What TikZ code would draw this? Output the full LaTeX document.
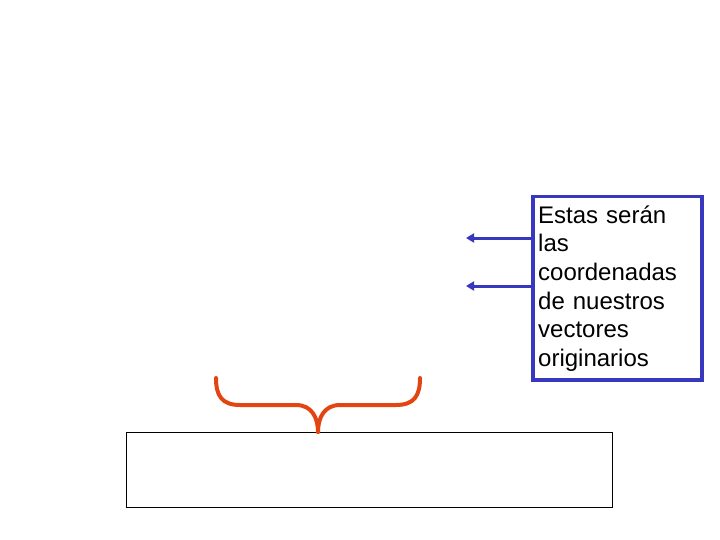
\documentclass[tikz,border=0pt]{standalone}
\usepackage{fontspec}
\setmainfont{Liberation Sans}
\usetikzlibrary{arrows.meta}
\definecolor{boxblue}{RGB}{56,56,190}
\definecolor{braceorange}{RGB}{226,68,18}
\tikzset{
  bluebox/.style={draw=boxblue, line width=3.5pt, minimum width=169pt, minimum height=183pt, inner sep=0pt},
  bluearrow/.style={draw=boxblue, line width=3pt, -{Triangle[length=8pt,width=9pt]}},
  bracestyle/.style={draw=braceorange, line width=4pt},
  blackbox/.style={draw=black, line width=1.2pt, minimum width=486pt, minimum height=75pt, inner sep=0pt},
  boxtext/.style={align=left, text width=165pt, inner sep=0pt, font=\fontsize{24pt}{28.7pt}\selectfont}
}
\begin{document}
\begin{tikzpicture}[x=1pt,y=-1pt]
\useasboundingbox (0,0) rectangle (720,540);
\node[bluebox, anchor=north west] (bb) at (531,195) {};
\node[boxtext, anchor=base west] (txt) at (538,223) {Estas serán\\las\\coordenadas\\de nuestros\\vectores\\originarios};
\coordinate (e1) at (466,238);
\coordinate (e2) at (466,286);
\draw[bluearrow] (bb.west |- e1) -- (e1);
\draw[bluearrow] (bb.west |- e2) -- (e2);
\node[blackbox, anchor=north west] (rb) at (126,432) {};
\coordinate (tip) at (318,432);
\draw[bracestyle, line cap=round] (216,378) .. controls (216,396) and (222,405) .. (240,405)
  -- (296,405) .. controls (312,405) and (318,418) .. (tip);
\draw[bracestyle, line cap=round] (420,378) .. controls (420,396) and (414,405) .. (396,405)
  -- (340,405) .. controls (324,405) and (318,418) .. (tip);
\end{tikzpicture}
\end{document}
